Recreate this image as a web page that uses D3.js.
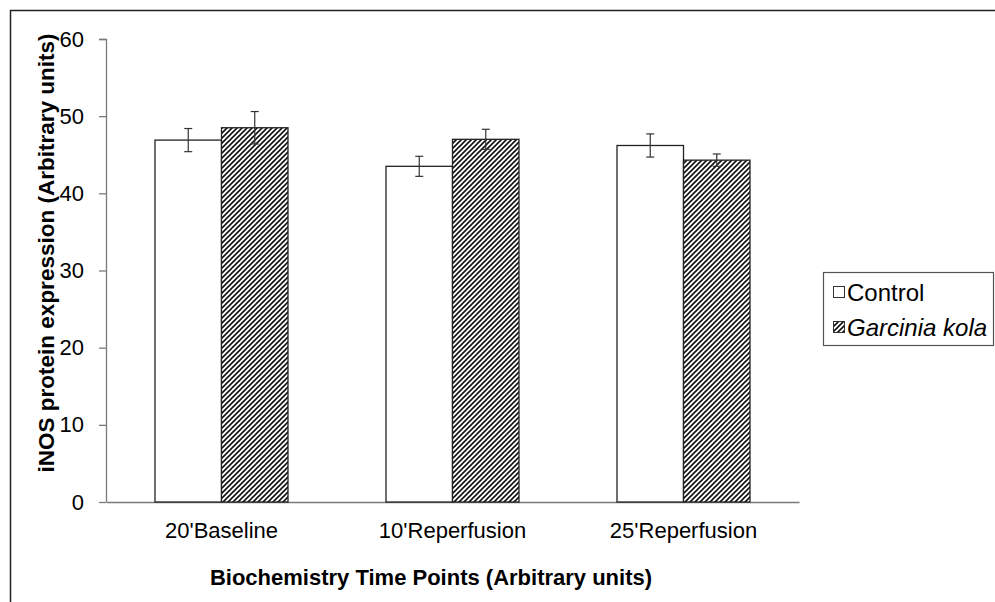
<!DOCTYPE html>
<html>
<head>
<meta charset="utf-8">
<script src="https://cdn.jsdelivr.net/npm/d3@7/dist/d3.min.js"></script>
<style>
  html, body { margin: 0; padding: 0; background: #fff; }
  svg { display: block; font-family: "Liberation Sans", Arial, sans-serif; }
</style>
</head>
<body>
<svg id="chart" width="995" height="602"></svg>
<script>
// Time points on the x axis
const categories = ["20'Baseline", "10'Reperfusion", "25'Reperfusion"];
// Group names
const seriesNames = ["Control", "Garcinia kola"];
// Mean iNOS expression per time point
const controlValues = [46.9, 43.5, 46.2];
const garciniaValues = [48.5, 47.0, 44.3];
// Error (± half-range) per bar
const controlErrors = [1.5, 1.3, 1.5];
const garciniaErrors = [2.1, 1.3, 0.8];
// Y axis ticks
const yTicks = [0, 10, 20, 30, 40, 50, 60];

const FONT = "Liberation Sans, Arial, sans-serif";
const svg = d3.select("#chart");
const margin = { left: 106, top: 39 };
const plotW = 799 - margin.left;
const plotH = 502 - margin.top;

// Outer frame
svg.append("rect")
  .attr("x", 10.5).attr("y", 10.5)
  .attr("width", 1000).attr("height", 800)
  .attr("fill", "none").attr("stroke", "#222").attr("stroke-width", 1.5);

// Diagonal hatch fill
const defs = svg.append("defs");
const pat = defs.append("pattern")
  .attr("id", "hatch")
  .attr("patternUnits", "userSpaceOnUse")
  .attr("width", 5).attr("height", 5);
pat.append("rect").attr("width", 5).attr("height", 5).attr("fill", "#fff");
pat.append("path")
  .attr("d", "M-1,1 l2,-2 M0,5 l5,-5 M4,6 l2,-2")
  .attr("stroke", "#111").attr("stroke-width", 1.6);

const g = svg.append("g").attr("transform", `translate(${margin.left},${margin.top})`);

const x0 = d3.scaleBand().domain(categories).range([0, plotW]);
const x1 = d3.scaleBand().domain(seriesNames)
  .range([x0.bandwidth() / 2 - 66.5, x0.bandwidth() / 2 + 66.5]);
const y = d3.scaleLinear().domain([0, 60]).range([plotH, 0]);

// Y axis
const yAxis = d3.axisLeft(y).tickValues(yTicks).tickSize(7).tickPadding(15);
const yg = g.append("g").call(yAxis);
yg.select(".domain").attr("stroke", "#7a7a7a").attr("stroke-width", 1.3).attr("d", `M-7,0.5H0.5V${plotH}`);
yg.selectAll(".tick line").attr("stroke", "#7a7a7a").attr("stroke-width", 1.3);
yg.selectAll(".tick text").attr("font-size", 22).attr("fill", "#000").attr("font-family", FONT);

// X axis
const xAxis = d3.axisBottom(x0).tickSize(0).tickPadding(24);
const xg = g.append("g").attr("transform", `translate(0,${plotH})`).call(xAxis);
xg.select(".domain").attr("stroke", "#7a7a7a").attr("stroke-width", 1.3);
xg.selectAll(".tick text").attr("font-size", 22).attr("fill", "#000").attr("font-family", FONT)
  .attr("dy", "0.55em");

// Bars
const rows = categories.map((c, i) => ({
  cat: c,
  bars: [
    { s: seriesNames[0], v: controlValues[i], e: controlErrors[i] },
    { s: seriesNames[1], v: garciniaValues[i], e: garciniaErrors[i] }
  ]
}));

const grp = g.selectAll(".grp").data(rows).enter().append("g")
  .attr("transform", d => `translate(${x0(d.cat)},0)`);

grp.selectAll("rect").data(d => d.bars).enter().append("rect")
  .attr("x", d => x1(d.s))
  .attr("y", d => y(d.v))
  .attr("width", x1.bandwidth())
  .attr("height", d => plotH - y(d.v))
  .attr("fill", (d, i) => i === 0 ? "#fff" : "url(#hatch)")
  .attr("stroke", "#222").attr("stroke-width", 1.3);

// Error bars
const eb = grp.selectAll(".eb").data(d => d.bars).enter().append("g");
eb.append("line")
  .attr("x1", d => x1(d.s) + x1.bandwidth() / 2)
  .attr("x2", d => x1(d.s) + x1.bandwidth() / 2)
  .attr("y1", d => y(d.v + d.e)).attr("y2", d => y(d.v - d.e))
  .attr("stroke", "#333").attr("stroke-width", 1.2);
[1, -1].forEach(sg => {
  eb.append("line")
    .attr("x1", d => x1(d.s) + x1.bandwidth() / 2 - 4)
    .attr("x2", d => x1(d.s) + x1.bandwidth() / 2 + 4)
    .attr("y1", d => y(d.v + sg * d.e)).attr("y2", d => y(d.v + sg * d.e))
    .attr("stroke", "#333").attr("stroke-width", 1.2);
});

// Axis titles
svg.append("text")
  .attr("transform", `translate(54,253) rotate(-90)`)
  .attr("text-anchor", "middle")
  .attr("font-size", 22.5).attr("font-weight", "bold")
  .text("iNOS protein expression (Arbitrary units)");

svg.append("text")
  .attr("x", 431).attr("y", 585)
  .attr("text-anchor", "middle")
  .attr("font-size", 22).attr("font-weight", "bold")
  .text("Biochemistry Time Points (Arbitrary units)");

// Legend
const lg = svg.append("g").attr("transform", "translate(823,272)");
lg.append("rect").attr("x", 0.5).attr("y", 0.5).attr("width", 170).attr("height", 73)
  .attr("fill", "#fff").attr("stroke", "#555").attr("stroke-width", 1.2);
seriesNames.forEach((s, i) => {
  const yy = 20 + i * 35;
  lg.append("rect").attr("x", 10.5).attr("y", yy - 5.5).attr("width", 11).attr("height", 11)
    .attr("fill", i === 0 ? "#fff" : "url(#hatch)").attr("stroke", "#333").attr("stroke-width", 1);
  lg.append("text").attr("x", 24).attr("y", yy + 8.5)
    .attr("font-size", 24)
    .attr("font-style", i === 1 ? "italic" : "normal")
    .text(s);
});
</script>
</body>
</html>
